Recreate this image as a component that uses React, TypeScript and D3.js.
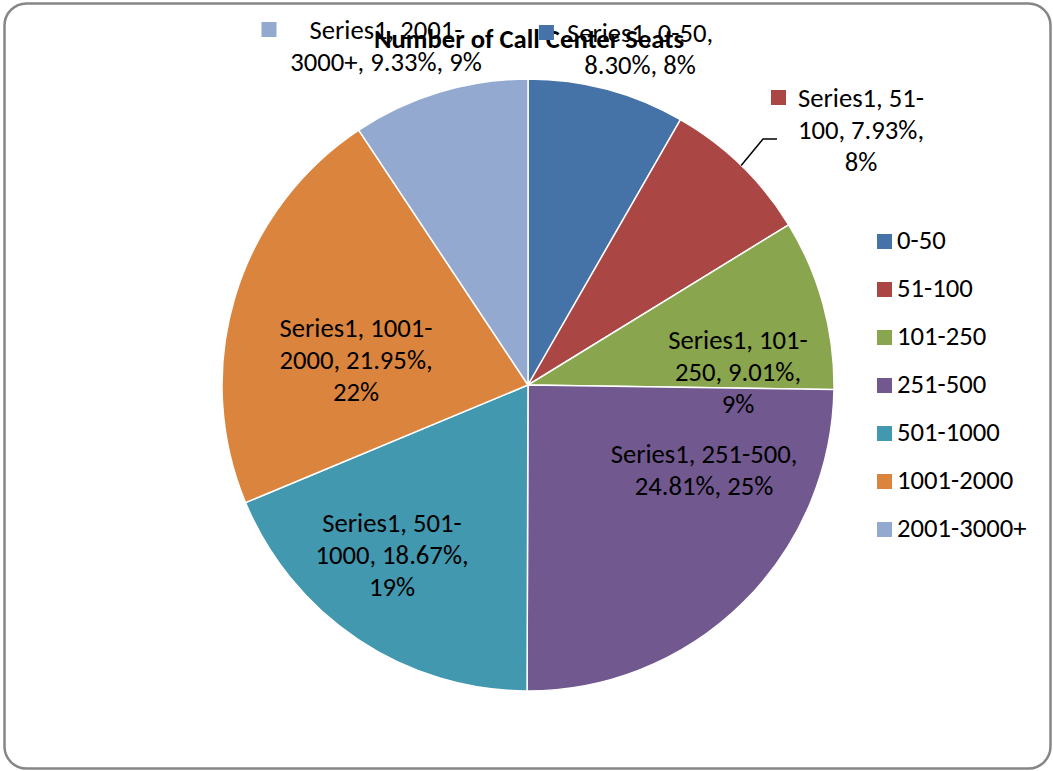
import React from "react";
import * as d3 from "d3";

const title = "Number of Call Center Seats";
const seriesName = "Series1";
const categories = ["0-50", "51-100", "101-250", "251-500", "501-1000", "1001-2000", "2001-3000+"];
const percents = [8.3, 7.93, 9.01, 24.81, 18.67, 21.95, 9.33];
const colors = ["#4572A7", "#AA4643", "#89A54E", "#71588F", "#4198AF", "#DB843D", "#93A9CF"];

// label layout: offset of text centre / first baseline from pie centre, wrap width in chars
const labelLayout = [
  { dx: 112, dy: -343, wrap: 15, outside: true, keyGap: 13 },
  { dx: 333, dy: -278, wrap: 13, outside: true, keyGap: 12, leader: true },
  { dx: 210, dy: -36, wrap: 13, outside: false },
  { dx: 176, dy: 78, wrap: 18, outside: false },
  { dx: -136, dy: 147, wrap: 13, outside: false },
  { dx: -172, dy: -48, wrap: 14, outside: false },
  { dx: -142, dy: -346, wrap: 16, outside: true, keyGap: 33 },
];

const W = 1053;
const H = 771;
const FONT = "Carlito, Calibri, Lato, sans-serif";
const FS = 26.67;
const LH = 32;

function wrapText(s: string, max: number): string[] {
  const tokens = s.match(/[^\s-]+-|[^\s-]+\s*|\s+/g) || [s];
  const lines: string[] = [];
  let cur = "";
  for (const t of tokens) {
    if (cur && (cur + t).trimEnd().length > max) {
      lines.push(cur.trimEnd());
      cur = t;
    } else cur += t;
  }
  if (cur.trim()) lines.push(cur.trimEnd());
  return lines;
}

let ctx: CanvasRenderingContext2D | null = null;
function measure(s: string): number {
  if (!ctx) ctx = document.createElement("canvas").getContext("2d");
  if (!ctx) return s.length * FS * 0.5;
  ctx.font = `${FS}px ${FONT}`;
  return ctx.measureText(s).width;
}

export default function App() {
  const cx = 528;
  const cy = 385;
  const r = 306;
  const data = categories.map((c, i) => ({ cat: c, v: percents[i], color: colors[i], i }));
  const pie = d3.pie<any>().value((d) => d.v).sort(null);
  const arcs = pie(data);
  const arc = d3.arc<any>().innerRadius(0).outerRadius(r);

  return (
    <svg width={W} height={H} style={{ display: "block", position: "absolute", left: 0, top: 0 }} fontFamily={FONT}>
      <rect x={4.5} y={3.5} width={W - 7} height={H - 6} rx={22} ry={22} fill="#fff" stroke="#868686" strokeWidth={2.5} />
      <g transform={`translate(${cx},${cy})`}>
        {arcs.map((a, i) => (
          <path key={i} d={arc(a) || ""} fill={a.data.color} stroke="#fff" strokeWidth={1.5} />
        ))}
      </g>
      <text x={529} y={48} textAnchor="middle" fontSize={FS} fontWeight="bold" fill="#000">
        {title}
      </text>
      {arcs.map((a, i) => {
        const L = labelLayout[i];
        const full = `${seriesName}, ${a.data.cat}, ${a.data.v.toFixed(2)}%, ${Math.round(a.data.v)}%`;
        const lines = wrapText(full, L.wrap);
        const tx = cx + L.dx;
        const ty = cy + L.dy;
        const w0 = measure(lines[0]);
        const left = tx - w0 / 2;
        const mid = (a.startAngle + a.endAngle) / 2;
        const ex = cx + Math.sin(mid) * r;
        const ey = cy - Math.cos(mid) * r;
        return (
          <g key={i}>
            {L.leader && (
              <polyline
                points={`${ex},${ey} ${left - 35},${ty + LH} ${left - 21},${ty + LH}`}
                fill="none"
                stroke="#000"
                strokeWidth={1.5}
              />
            )}
            {L.outside && (
              <rect x={left - (L.keyGap || 14) - 15} y={ty - 17} width={15} height={15} fill={a.data.color} />
            )}
            <text x={tx} y={ty} textAnchor="middle" fontSize={FS} fill="#000">
              {lines.map((ln, k) => (
                <tspan key={k} x={tx} dy={k === 0 ? 0 : LH}>
                  {ln}
                </tspan>
              ))}
            </text>
          </g>
        );
      })}
      {categories.map((c, i) => (
        <g key={c} transform={`translate(877,${234 + i * 48})`}>
          <rect x={0} y={0} width={15} height={15} fill={colors[i]} />
          <text x={20} y={15} fontSize={FS} fill="#000">
            {c}
          </text>
        </g>
      ))}
    </svg>
  );
}
